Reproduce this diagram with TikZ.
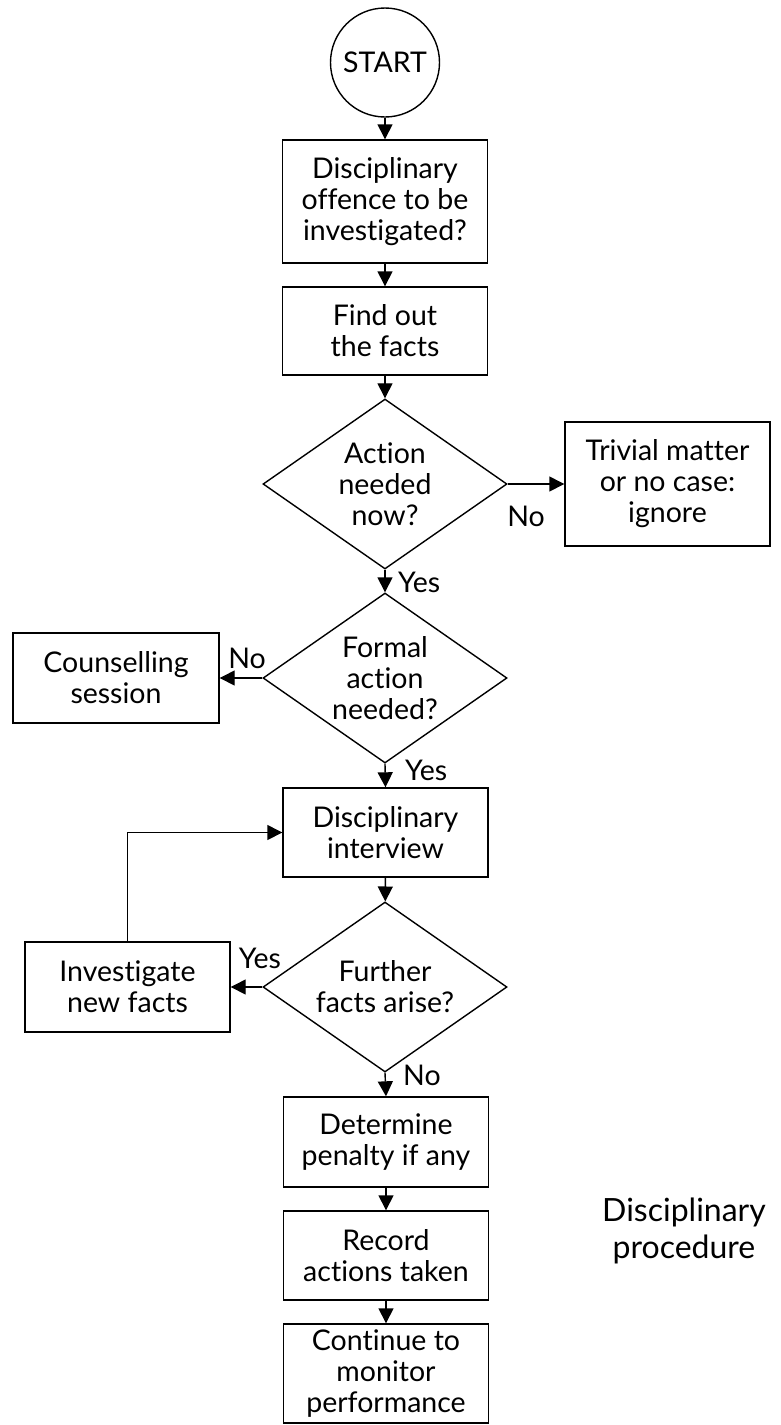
\documentclass[tikz,border=0pt]{standalone}
\usepackage{fontspec}
\setmainfont{Lato}[Ligatures=NoCommon]
\usetikzlibrary{shapes.geometric,arrows.meta}
\begin{document}
\begin{tikzpicture}[x=1pt,y=-1pt,
  txt/.style={font=\fontsize{28.5}{31}\selectfont, align=center, inner sep=0pt},
  box/.style={draw, line width=1.4pt, rectangle, minimum width=205pt, inner sep=0pt, align=center, font=\fontsize{28.5}{31}\selectfont},
  dia/.style={draw, line width=1.4pt, diamond, minimum width=244pt, minimum height=170pt, inner sep=0pt},
  lbl/.style={font=\fontsize{28.5}{31}\selectfont, inner sep=0pt},
  arr/.style={line width=1.4pt, -{Triangle[length=15pt,width=15pt]}}
]
\useasboundingbox (0,0) rectangle (781,1425);
\node[draw, line width=1.4pt, circle, minimum size=109pt, inner sep=0pt, font=\fontsize{28.5}{31}\selectfont] (start) at (385,62.5) {START};
\node[box, minimum height=123pt] (b1) at (385,201.5) {Disciplinary\\offence to be\\investigated?};
\node[box, minimum height=88pt] (b2) at (385,331) {Find out\\the facts};
\node[dia] (d1) at (385,484) {};
\node[txt] (d1t) at (385,484) {Action\\needed\\now?};
\node[box, minimum height=124pt] (triv) at (667.5,484) {Trivial matter\\or no case:\\ignore};
\node[dia] (d2) at (385,678) {};
\node[txt] (d2t) at (385,678) {Formal\\action\\needed?};
\node[box, minimum width=206pt, minimum height=90pt] (couns) at (116,678) {Counselling\\session};
\node[box, minimum height=89pt] (intv) at (385.5,832.5) {Disciplinary\\interview};
\node[dia] (d3) at (385,987) {};
\node[txt] (d3t) at (385,987) {Further\\facts arise?};
\node[box, minimum height=90pt] (inv) at (127.5,987) {Investigate\\new facts};
\node[box, minimum height=90pt] (det) at (386,1142) {Determine\\penalty if any};
\node[box, minimum height=89pt] (rec) at (386,1255.5) {Record\\actions taken};
\node[box, minimum height=99pt] (cont) at (386,1373.5) {Continue to\\monitor\\performance};
\node[txt, font=\fontsize{32}{37}\selectfont] (title) at (684,1231) {Disciplinary\\procedure};
% labels
\node[lbl] (l1) at (526,516) {No};
\node[lbl, anchor=west] (l2) at (398,582) {Yes};
\node[lbl] (l3) at (247,658) {No};
\node[lbl, anchor=west] (l4) at (405,770) {Yes};
\node[lbl] (l5) at (260,958) {Yes};
\node[lbl, anchor=west] (l6) at (403,1075) {No};
% connectors
\draw[arr] (start) -- (b1);
\draw[arr] (b1) -- (b2);
\draw[arr] (b2) -- (d1);
\draw[arr] (d1.south) -- (d2.north);
\draw[arr] (d2.south) -- (intv.north);
\draw[arr] (intv) -- (d3);
\draw[arr] (d3.south) -- (det.north);
\draw[arr] (det) -- (rec);
\draw[arr] (rec) -- (cont);
\draw[arr] (d1.east) -- (triv.west);
\draw[arr] (d2.west) -- (couns.east);
\draw[arr] (d3.west) -- (inv.east);
\draw[arr] (inv.north) |- (intv.west);
\end{tikzpicture}
\end{document}
